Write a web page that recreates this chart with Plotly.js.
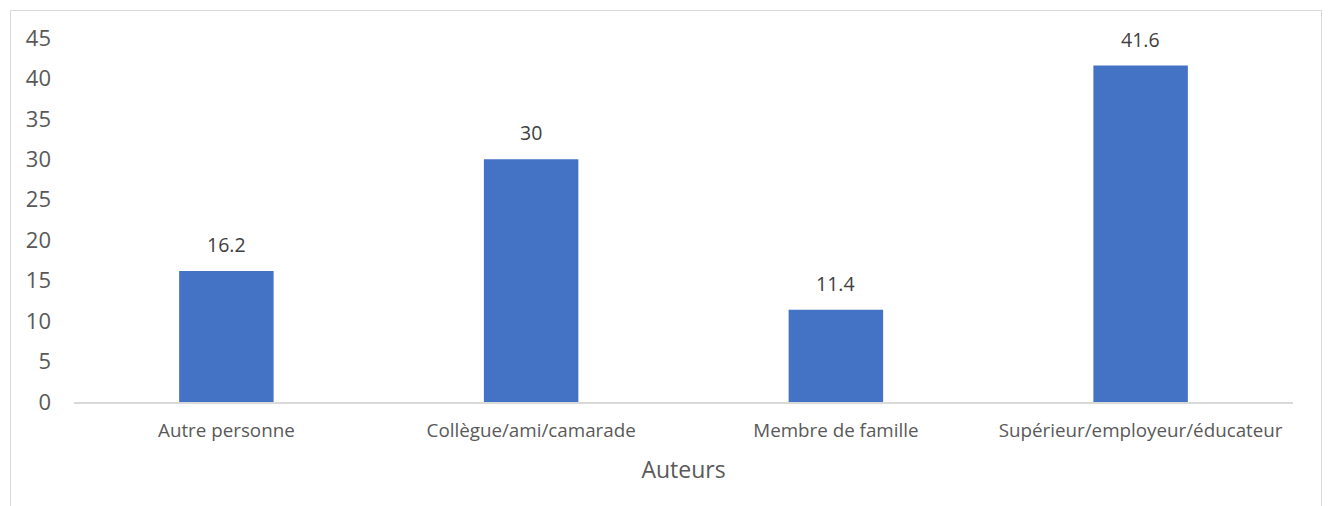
<!DOCTYPE html>
<html>
<head>
<meta charset="utf-8">
<script src="https://cdn.plot.ly/plotly-3.0.1.min.js"></script>
<style>
  html, body { margin: 0; padding: 0; background: #ffffff; }
  #wrap { position: relative; width: 1328px; height: 506px; overflow: hidden; }
  #chart { position: absolute; left: 0; top: 0; width: 1328px; height: 506px; }
  #frame { position: absolute; left: 10px; top: 10px; width: 1310px; height: 520px;
           border: 1.5px solid #d9d9d9; pointer-events: none; }
</style>
</head>
<body>
<div id="wrap">
  <div id="chart"></div>
  <div id="frame"></div>
</div>
<script>
const categories = ["Autre personne", "Collègue/ami/camarade", "Membre de famille", "Supérieur/employeur/éducateur"];
const values = [16.2, 30, 11.4, 41.6];
const valueLabels = ["16.2", "30", "11.4", "41.6"];
const yTicks = [0, 5, 10, 15, 20, 25, 30, 35, 40, 45];
const xTitle = "Auteurs";

const FONT = "Open Sans, Liberation Sans, sans-serif";

const trace = {
  type: "bar",
  x: categories,
  y: values,
  marker: { color: "#4472C4" },
  hoverinfo: "x+y"
};

const annotations = categories.map((c, i) => ({
  x: c, y: values[i], xref: "x", yref: "y",
  text: valueLabels[i], showarrow: false,
  yanchor: "bottom", yshift: 11,
  font: { family: FONT, size: 19.5, color: "#404040" }
}));

const layout = {
  width: 1328, height: 506,
  margin: { l: 74, r: 35, t: 38, b: 104 },
  paper_bgcolor: "rgba(0,0,0,0)",
  plot_bgcolor: "rgba(0,0,0,0)",
  bargap: 0.69,
  showlegend: false,
  font: { family: FONT, color: "#595959" },
  xaxis: {
    type: "category",
    showline: true, linecolor: "#d9d9d9", linewidth: 1.5,
    showgrid: false, zeroline: false, ticks: "",
    tickfont: { family: FONT, size: 18.8, color: "#595959" },
    ticklabelstandoff: 11,
    title: { text: xTitle, font: { family: FONT, size: 23, color: "#595959" }, standoff: 20 }
  },
  yaxis: {
    range: [0, 45],
    tickvals: yTicks,
    showgrid: false, zeroline: false, showline: false, ticks: "",
    tickfont: { family: FONT, size: 22, color: "#595959" },
    ticklabelstandoff: 22
  },
  annotations: annotations
};

Plotly.newPlot("chart", [trace], layout, { displayModeBar: false, staticPlot: true });
</script>
</body>
</html>
